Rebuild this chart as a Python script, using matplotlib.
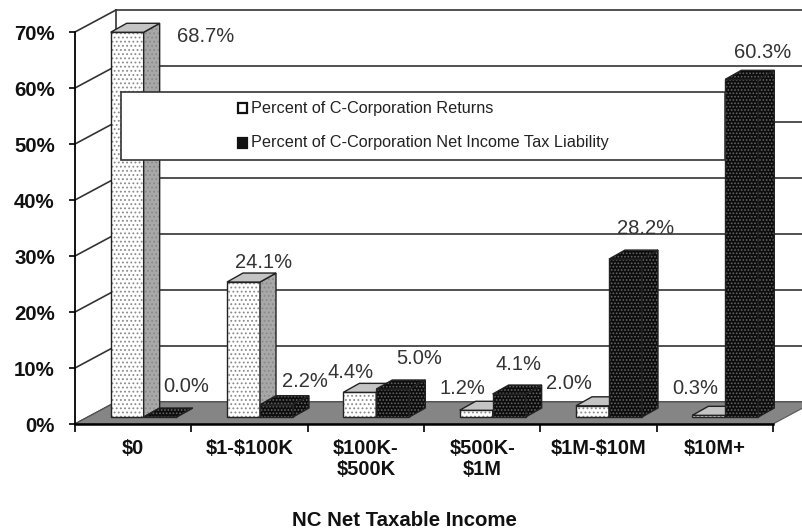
import matplotlib
matplotlib.use('Agg')
import matplotlib.pyplot as plt
from matplotlib.patches import Polygon, Rectangle

plt.rcParams['font.family'] = ['Liberation Sans', 'DejaVu Sans']
plt.rcParams['text.parse_math'] = False
plt.rcParams['hatch.linewidth'] = 0.8

categories = ['$0', '$1-$100K', '$100K-\n$500K', '$500K-\n$1M', '$1M-$10M', '$10M+']
returns_pct = [68.7, 24.1, 4.4, 1.2, 2.0, 0.3]
liability_pct = [0.0, 2.2, 5.0, 4.1, 28.2, 60.3]
series_names = ['Percent of C-Corporation Returns',
                'Percent of C-Corporation Net Income Tax Liability']
y_ticks = [0, 10, 20, 30, 40, 50, 60, 70]

# label offsets from the top of each bar, in pixels
returns_off = [(78, -4), (20, 20), (-9, 20), (-14, 22), (-24, 22), (-14, 27)]
liability_off = [(26, 31), (28, 23), (26, 31), (9, 30), (20, 31), (21, 27)]

PX_X = 116.33   # pixels per category
PX_Y = 5.6      # pixels per percent

fig = plt.figure(figsize=(8.02, 5.29), dpi=100)
ax = fig.add_axes([75 / 802, 1 - 424 / 529, 727 / 802, 424 / 529])
ax.set_xlim(0, 727 / PX_X)
ax.set_ylim(0, 424 / PX_Y)
ax.patch.set_visible(False)

wall_dx, wall_dy = 41 / PX_X, 22 / PX_Y
base_dx, base_dy = 10.5 / PX_X, 7 / PX_Y
bar_dx, bar_dy = 16 / PX_X, 9 / PX_Y
bar_w = 33 / PX_X
line_col = '#333333'


def face(points, fc, hatch_col=None, hatch=None, z=3, ec='#222222', lw=1.0):
    if hatch:
        ax.add_patch(Polygon(points, closed=True, facecolor=fc, edgecolor=hatch_col,
                             hatch=hatch, lw=0, zorder=z))
        ax.add_patch(Polygon(points, closed=True, fill=False, edgecolor=ec, lw=lw, zorder=z))
    else:
        ax.add_patch(Polygon(points, closed=True, facecolor=fc, edgecolor=ec, lw=lw, zorder=z))


def bar3d(x0, val, front, side, top, hatch_col, hatch, z):
    x1 = x0 + bar_w
    y0 = base_dy
    y1 = base_dy + val
    face([(x0, y0), (x1, y0), (x1, y1), (x0, y1)], front, hatch_col, hatch, z)
    face([(x1, y0), (x1 + bar_dx, y0 + bar_dy), (x1 + bar_dx, y1 + bar_dy), (x1, y1)],
         side, hatch_col, hatch, z)
    face([(x0, y1), (x1, y1), (x1 + bar_dx, y1 + bar_dy), (x0 + bar_dx, y1 + bar_dy)],
         top, hatch_col, hatch if top == '#0c0c0c' else None, z)


# back wall and grid
for t in y_ticks:
    ax.plot([0, wall_dx], [t, t + wall_dy], color=line_col, lw=1.2, zorder=1)
    ax.plot([wall_dx, 7], [t + wall_dy, t + wall_dy], color=line_col, lw=1.2, zorder=1)
ax.plot([wall_dx, wall_dx], [wall_dy, 70 + wall_dy], color=line_col, lw=1.2, zorder=1)

# floor
ax.add_patch(Polygon([(0, 0), (wall_dx, wall_dy), (6 + wall_dx, wall_dy), (6, 0)], closed=True,
                     facecolor='#858585', edgecolor='#555555', lw=0.8, zorder=2))

for i, (a, b) in enumerate(zip(returns_pct, liability_pct)):
    x0 = i + 0.5 - bar_w + base_dx
    bar3d(x0, a, 'white', '#a8a8a8', '#c4c4c4', '#8a8a8a', '....', 3 + i * 2)
    bar3d(x0 + bar_w, b, '#0c0c0c', '#0c0c0c', '#0c0c0c', '#666666', '.....', 4 + i * 2)
    ax.annotate(f'{a:.1f}%', (x0 + bar_w / 2, base_dy + a), xytext=returns_off[i],
                textcoords='offset pixels', ha='center', va='center',
                fontsize=14.5, color='#333333', zorder=30)
    ax.annotate(f'{b:.1f}%', (x0 + bar_w * 1.5, base_dy + b), xytext=liability_off[i],
                textcoords='offset pixels', ha='center', va='center',
                fontsize=14.5, color='#333333', zorder=30)

# axes, ticks
for s in ['top', 'right']:
    ax.spines[s].set_visible(False)
ax.spines['left'].set_bounds(0, 70)
ax.spines['bottom'].set_bounds(0, 6)
ax.spines['left'].set_linewidth(1.3)
ax.spines['bottom'].set_linewidth(1.8)
ax.spines['left'].set_zorder(2.5)
ax.spines['bottom'].set_zorder(2.5)

ax.set_yticks(y_ticks)
ax.set_yticklabels([f'{t}%' for t in y_ticks], fontweight='bold', fontsize=14.7, color='#111111')
ax.tick_params(axis='y', length=4.5, width=1.2, pad=10)
ax.set_xticks(range(7))
ax.set_xticklabels([''] * 7)
ax.tick_params(axis='x', length=6, width=1.2, direction='out')
ax.set_xticks([i + 0.5 for i in range(6)], minor=True)
ax.set_xticklabels(categories, minor=True, fontweight='bold', fontsize=14.5, color='#111111',
                   linespacing=1.1)
ax.tick_params(axis='x', which='minor', length=0, pad=11)
ax.set_xlabel('NC Net Taxable Income', fontweight='bold', fontsize=14.7, color='#111111')
ax.xaxis.set_label_coords(329 / 727, -87 / 424)

# legend box
fig_x = lambda px: px / 802
fig_y = lambda py: 1 - py / 529
ax.add_patch(Rectangle((fig_x(121), fig_y(160)), 604 / 802, 68 / 529, transform=fig.transFigure,
                       facecolor='white', edgecolor='#333333', lw=1.2, zorder=20))
for py, name, fc in [(108, series_names[0], 'white'), (143, series_names[1], '#111111')]:
    ax.add_patch(Rectangle((fig_x(238), fig_y(py + 4.5)), 9 / 802, 9 / 529,
                           transform=fig.transFigure, facecolor=fc, edgecolor='#111111',
                           lw=1.6, zorder=21))
    ax.text(fig_x(251), fig_y(py), name, transform=fig.transFigure, ha='left', va='center',
            fontsize=11.7, color='#222222', zorder=21)

fig.savefig('out.png', dpi=100)
